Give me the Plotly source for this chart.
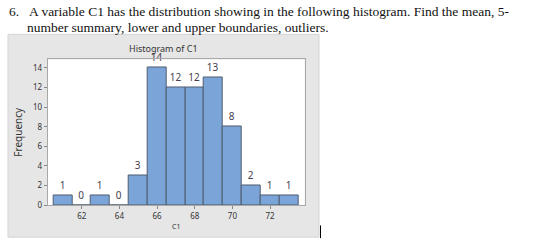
import plotly.graph_objects as go

# Data
bin_centers = [61, 62, 63, 64, 65, 66, 67, 68, 69, 70, 71, 72, 73]
counts = [1, 0, 1, 0, 3, 14, 12, 12, 13, 8, 2, 1, 1]
x_ticks = [62, 64, 66, 68, 70, 72]
y_ticks = [0, 2, 4, 6, 8, 10, 12, 14]

W, H = 560, 250
def px(x):
    return x / W
def py(y):
    return 1 - y / H

fig = go.Figure()
fig.add_trace(go.Bar(
    x=bin_centers, y=counts, width=1,
    marker=dict(color="#7ba5d9", line=dict(color="#4f5c6e", width=1)),
    text=[str(c) for c in counts], textposition="outside",
    textfont=dict(family="Noto Sans", size=10, color="#474050"),
    cliponaxis=False, constraintext="none",
))

fig.update_layout(
    width=W, height=H,
    margin=dict(l=0, r=0, t=0, b=0),
    paper_bgcolor="white", plot_bgcolor="white",
    showlegend=False, bargap=0,
    font=dict(family="Noto Sans", color="#333333"),
    xaxis=dict(
        domain=[px(47.7), px(304.7)], range=[60.19, 73.84],
        tickvals=x_ticks, ticktext=[str(t) for t in x_ticks],
        ticks="outside", ticklen=3, tickcolor="#888888",
        tickfont=dict(size=8, color="#333333"),
        showgrid=False, zeroline=False,
        showline=True, linecolor="#a8a8a8", mirror=True,
        title=dict(text="C1", font=dict(size=7, color="#333333"), standoff=4),
    ),
    yaxis=dict(
        domain=[py(209.3), py(60.7)], range=[0, 14.86],
        tickvals=y_ticks, ticktext=[str(t) for t in y_ticks],
        ticks="outside", ticklen=3, tickcolor="#888888",
        tickfont=dict(size=8, color="#333333"),
        showgrid=False, zeroline=False,
        showline=True, linecolor="#a8a8a8", mirror=True,
        title=dict(text="Frequency", font=dict(size=10, color="#333333"), standoff=8),
    ),
    shapes=[
        dict(type="rect", xref="paper", yref="paper", layer="below",
             x0=px(8), x1=px(319), y0=py(242), y1=py(35),
             fillcolor="#e6e6e6", line=dict(color="#d4d4d4", width=1)),
        dict(type="rect", xref="paper", yref="paper", layer="below",
             x0=px(47.7), x1=px(304.7), y0=py(209.3), y1=py(60.7),
             fillcolor="white", line=dict(width=0)),
        dict(type="line", xref="paper", yref="paper",
             x0=px(320.5), x1=px(320.5), y0=py(230), y1=py(243),
             line=dict(color="black", width=1)),
    ],
    annotations=[
        dict(text="Histogram of C1", x=px(163.5), y=py(49), xref="paper", yref="paper",
             showarrow=False, xanchor="center", yanchor="middle",
             font=dict(family="Noto Sans", size=9, color="#333333")),
        dict(text="6.", x=px(7), y=py(12), xref="paper", yref="paper",
             showarrow=False, xanchor="left", yanchor="middle",
             font=dict(family="Liberation Serif", size=13.5, color="#111111")),
        dict(text="A variable C1 has the distribution showing in the following histogram. Find the mean, 5-",
             x=px(27), y=py(12), xref="paper", yref="paper",
             showarrow=False, xanchor="left", yanchor="middle",
             font=dict(family="Liberation Serif", size=13.5, color="#111111")),
        dict(text="number summary, lower and upper boundaries, outliers.",
             x=px(25), y=py(28), xref="paper", yref="paper",
             showarrow=False, xanchor="left", yanchor="middle",
             font=dict(family="Liberation Serif", size=13.5, color="#111111")),
    ],
)

fig.write_html("out.html")
